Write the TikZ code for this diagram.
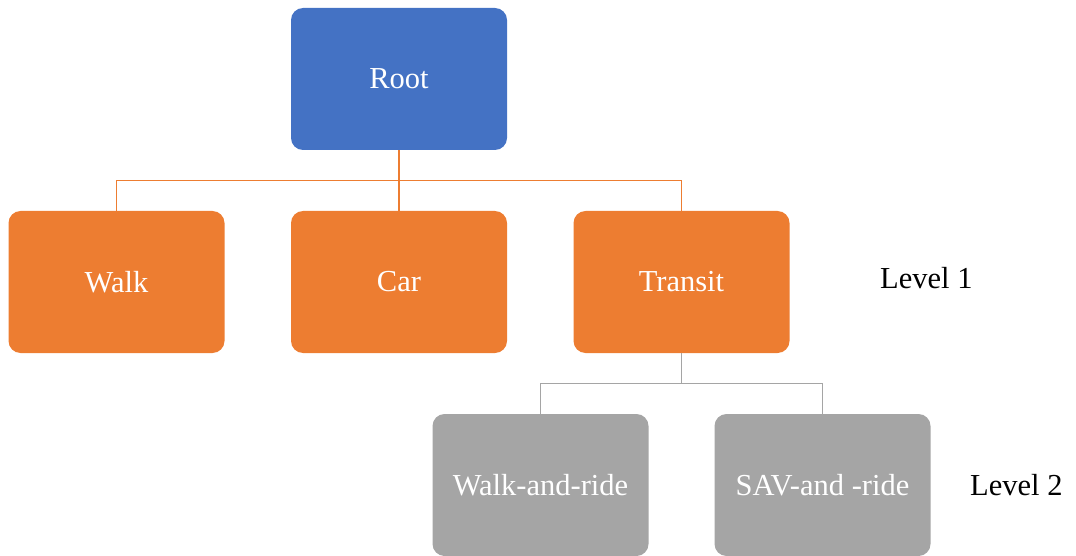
\documentclass[tikz,border=0pt]{standalone}
\usepackage{fontspec}
\setmainfont{Liberation Serif}
\definecolor{rootblue}{HTML}{4472C4}
\definecolor{modeorange}{HTML}{ED7D31}
\definecolor{subgray}{HTML}{A5A5A5}

\begin{document}
\begin{tikzpicture}[x=1pt, y=-1pt,
    font=\fontsize{30.5}{36}\selectfont,
    box/.style={rectangle, rounded corners=12pt, minimum width=216pt, minimum height=142pt, inner sep=0pt, text=white},
    parent anchor=south, child anchor=north,
    edge from parent path={(\tikzparentnode.south) -- ++(0pt,-30.5pt) -| (\tikzchildnode.north)},
    level distance=203pt,
    level 1/.style={sibling distance=282.5pt, edge from parent/.style={draw=modeorange, line width=1.5pt}},
    level 2/.style={sibling distance=282pt, edge from parent/.style={draw=subgray, line width=1.5pt}}]
    \useasboundingbox (0,0) rectangle (1076,556);
    \node[box, fill=rootblue] (root) at (399,79) {Root}
        child {node[box, fill=modeorange] (walk) {Walk}}
        child {node[box, fill=modeorange] (car) {Car}}
        child {node[box, fill=modeorange] (transit) {Transit}
            child {node[box, fill=subgray] (walkride) {Walk-and-ride}}
            child {node[box, fill=subgray] (savride) {SAV-and -ride}}
        };
    \node[anchor=west, inner sep=0pt] (lvlone) at (880,278) {Level 1};
    \node[anchor=west, inner sep=0pt] (lvltwo) at (970,485) {Level 2};
\end{tikzpicture}
\end{document}
